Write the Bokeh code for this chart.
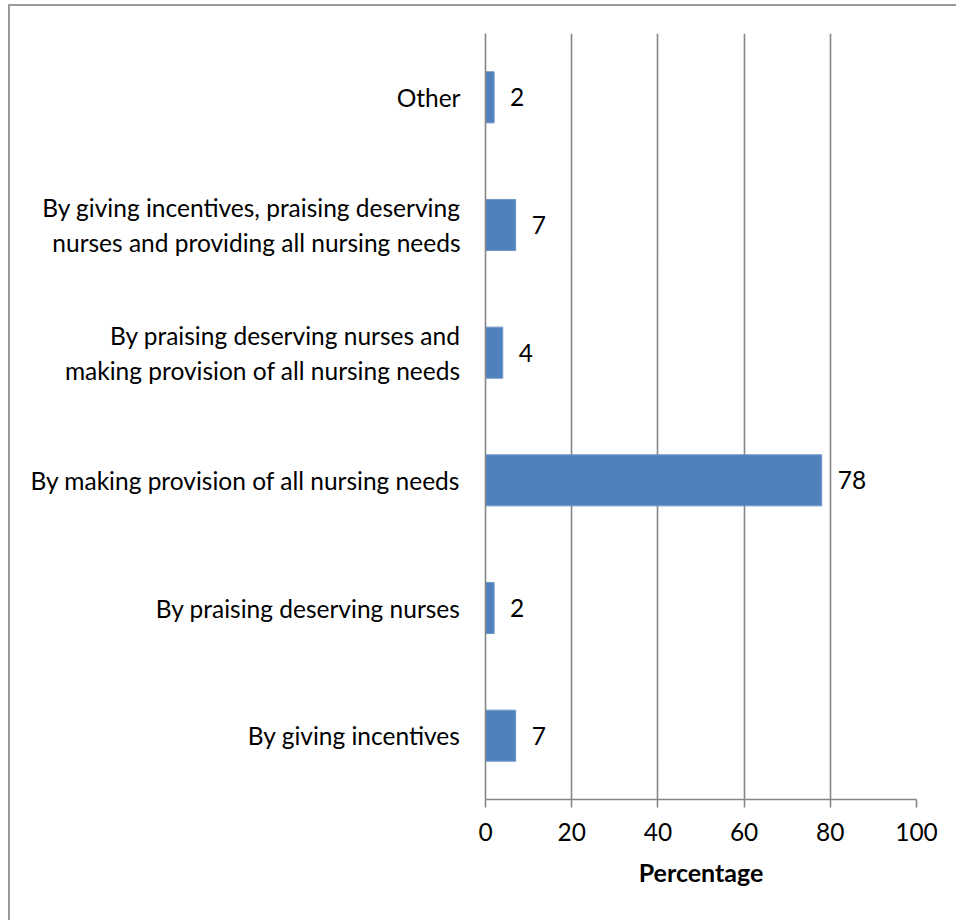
from bokeh.plotting import figure
from bokeh.models import ColumnDataSource, LabelSet, FactorRange, Range1d, FixedTicker
from bokeh.core.properties import value
from bokeh.embed import file_html
from bokeh.resources import INLINE

categories = [
    "By giving incentives",
    "By praising deserving nurses",
    "By making provision of all nursing needs",
    "By praising deserving nurses and\nmaking provision of all nursing needs",
    "By giving incentives, praising deserving\nnurses and providing all nursing needs",
    "Other",
]
values = [7, 2, 78, 4, 7, 2]
x_ticks = [0, 20, 40, 60, 80, 100]

FONT = "Lato"
FS = "24.5px"
GRID = "#868686"

src = ColumnDataSource(dict(cat=categories, val=values, lab=[str(v) for v in values]))

p = figure(
    width=948, height=916,
    y_range=FactorRange(*categories, range_padding=0),
    x_range=Range1d(0, 100),
    output_backend="svg", toolbar_location=None,
    min_border_left=475, min_border_right=42, min_border_top=27, min_border_bottom=123,
)
p.margin = (4, 0, 0, 8)
p.styles = {"border-left": "2px solid #9a9a9a", "border-top": "2px solid #9a9a9a"}

p.hbar(y="cat", right="val", height=0.4, source=src,
       fill_color="#4F81BD", line_color="#6f96c8", line_width=1)

labels = LabelSet(x="val", y="cat", text="lab", source=src, x_offset=16,
                  text_align="left", text_baseline="middle",
                  text_font=value(FONT), text_font_size=FS, text_color="black")
p.add_layout(labels)

p.outline_line_color = None
p.ygrid.grid_line_color = None
p.xgrid.grid_line_color = GRID
p.xgrid.grid_line_width = 1.6
p.xaxis.ticker = FixedTicker(ticks=x_ticks)
p.xaxis.axis_line_color = GRID
p.xaxis.axis_line_width = 1.6
p.xaxis.major_tick_line_color = GRID
p.xaxis.major_tick_line_width = 1.6
p.xaxis.major_tick_out = 8
p.xaxis.major_tick_in = 0
p.xaxis.minor_tick_line_color = None
p.xaxis.major_label_text_font = FONT
p.xaxis.major_label_text_font_size = FS
p.xaxis.major_label_text_color = "black"
p.xaxis.major_label_standoff = 15
p.xaxis.axis_label = "Percentage"
p.xaxis.axis_label_text_font = FONT
p.xaxis.axis_label_text_font_size = "25px"
p.xaxis.axis_label_text_font_style = "bold"
p.xaxis.axis_label_text_color = "black"
p.xaxis.axis_label_standoff = 13

p.yaxis.axis_line_color = GRID
p.yaxis.axis_line_width = 1.6
p.yaxis.major_tick_line_color = None
p.yaxis.minor_tick_line_color = None
p.yaxis.major_label_text_font = FONT
p.yaxis.major_label_text_font_size = FS
p.yaxis.major_label_text_color = "black"
p.yaxis.major_label_standoff = 19

open("out.html", "w").write(file_html(p, INLINE))
